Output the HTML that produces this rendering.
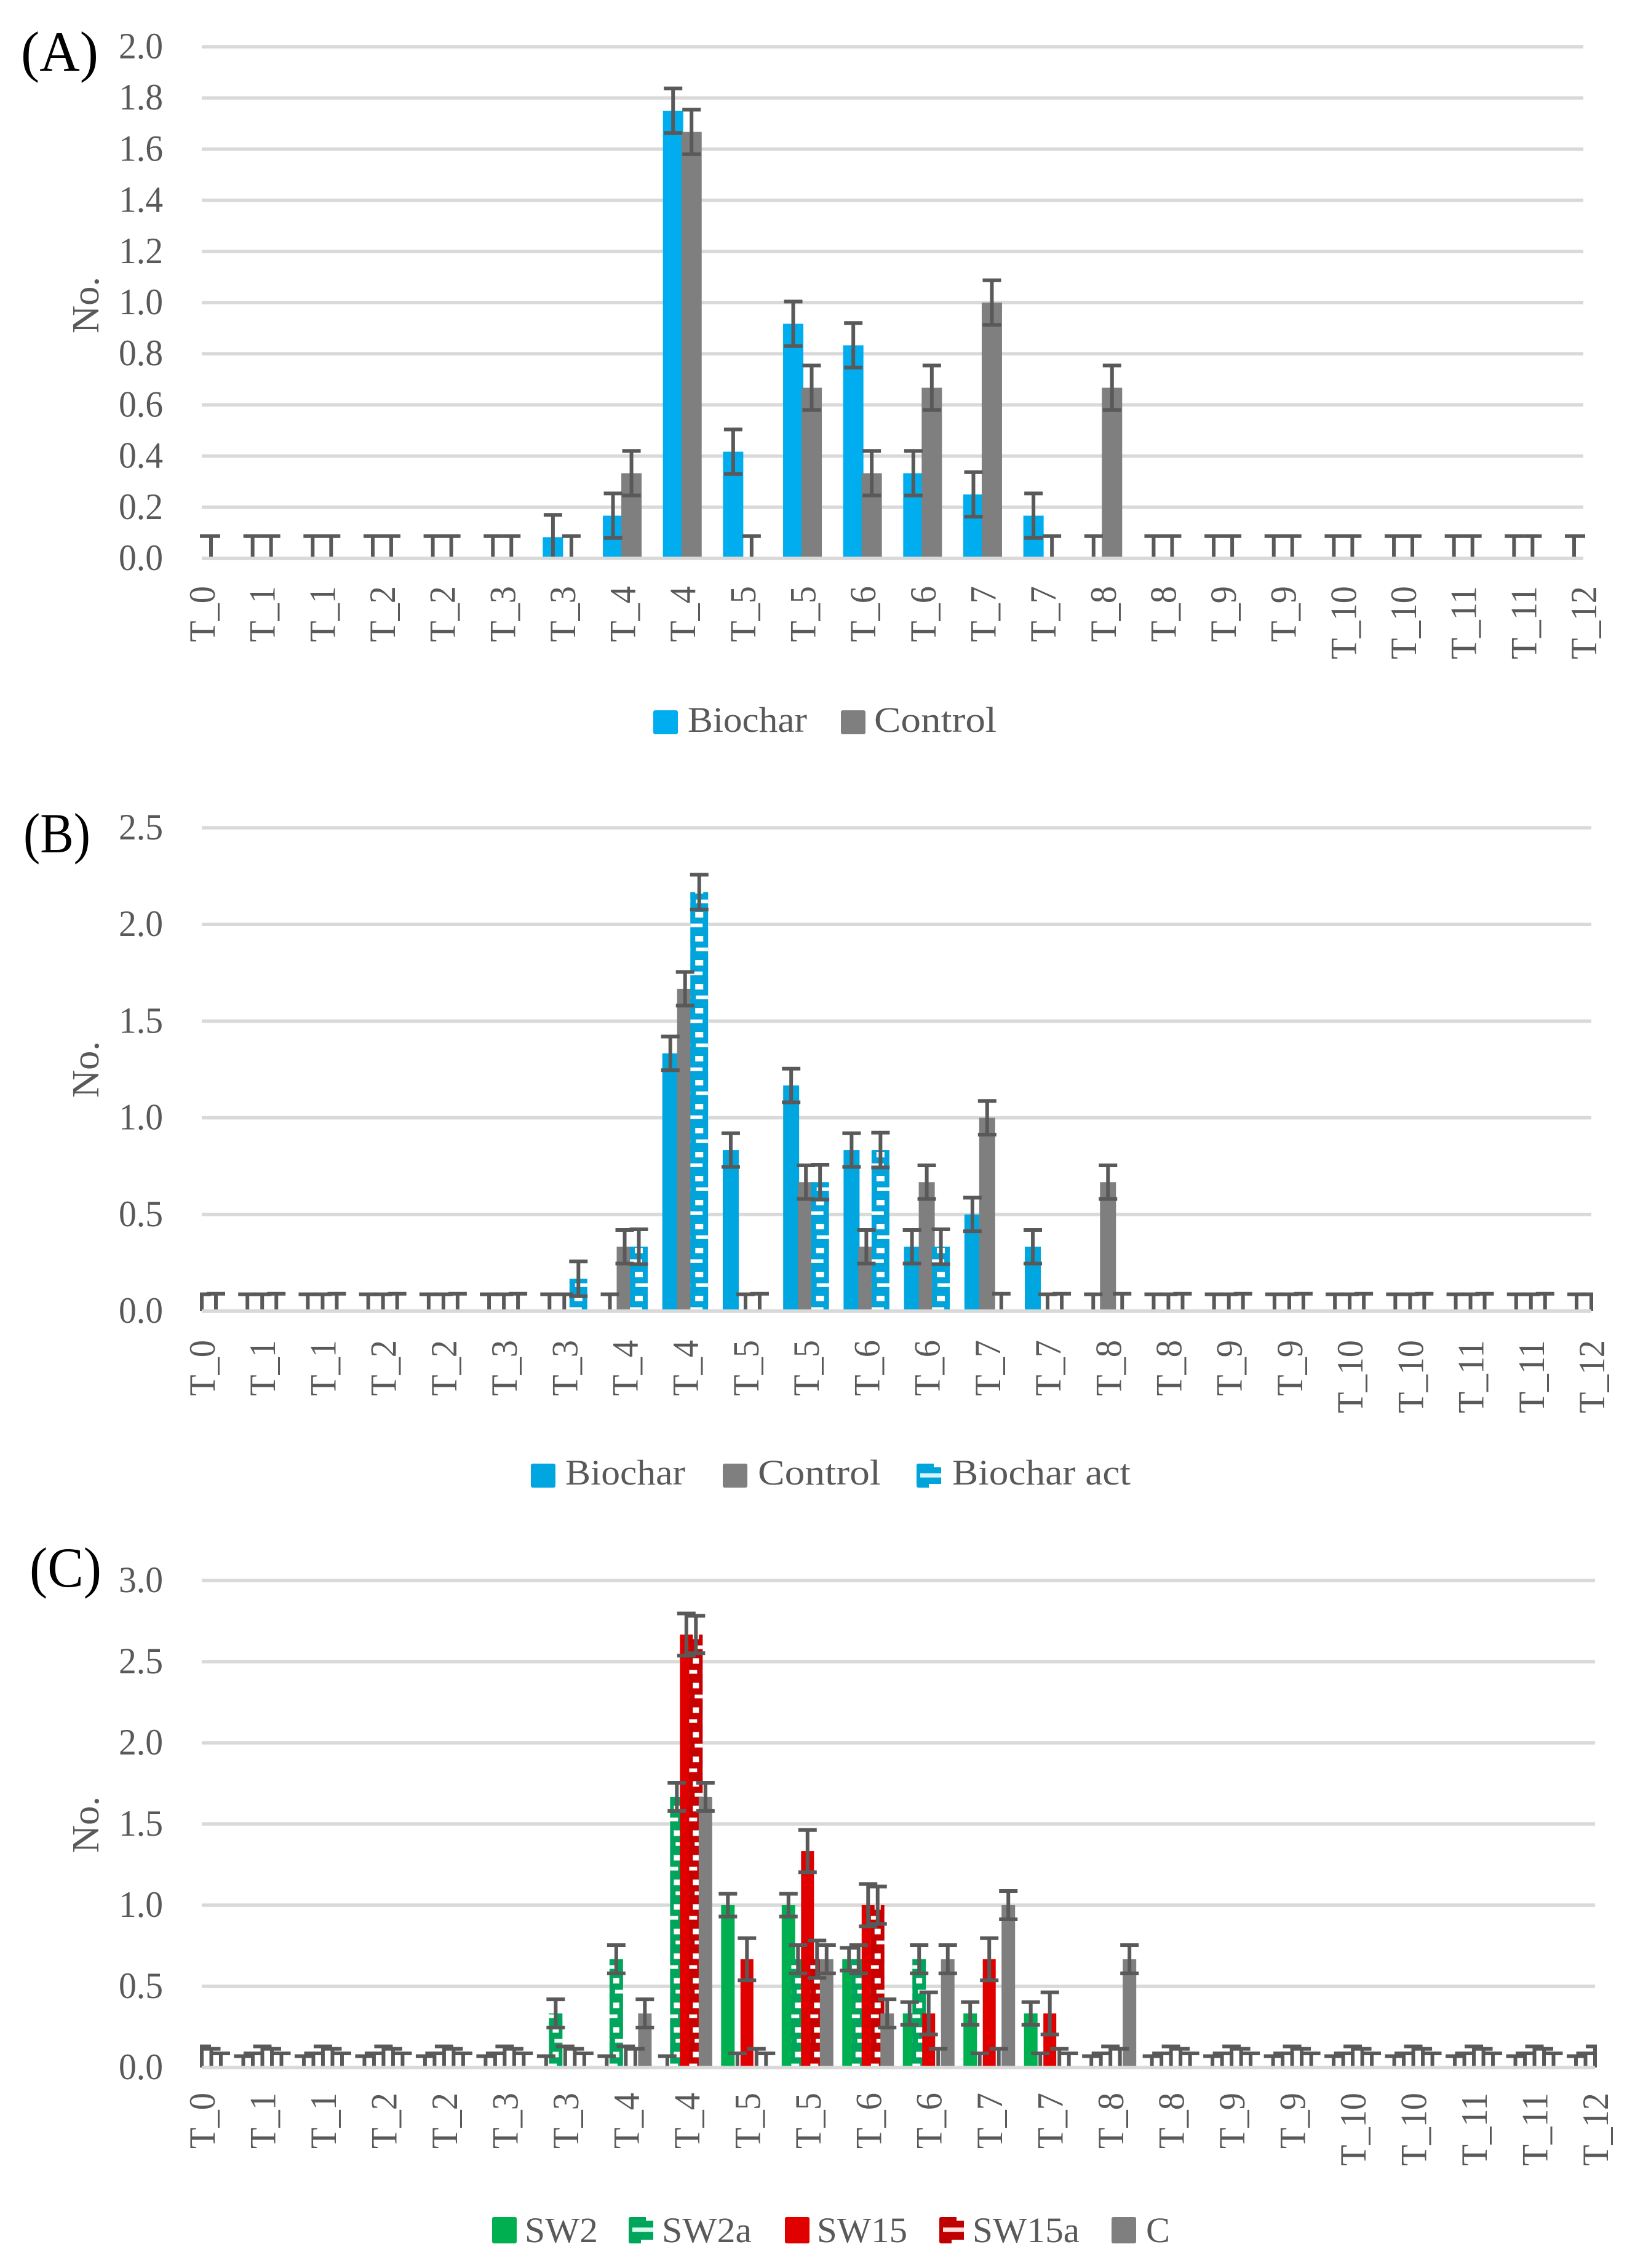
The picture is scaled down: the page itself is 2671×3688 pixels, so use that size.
<!DOCTYPE html>
<html lang="en">
<head>
<meta charset="utf-8">
<title>Biochar charts</title>
<style>
html,body{margin:0;padding:0;background:#fff;}
svg{display:block;}
text{font-family:"Liberation Serif",serif;fill:#595959;}
</style>
</head>
<body>
<svg id="figure" xmlns="http://www.w3.org/2000/svg" width="2671" height="3688" viewBox="0 0 2671 3688"></svg>
<script>
const categories = ['T_0','T_1','T_1','T_2','T_2','T_3','T_3','T_4','T_4','T_5','T_5','T_6','T_6','T_7','T_7','T_8','T_8','T_9','T_9','T_10','T_10','T_11','T_11','T_12'];

const ticksA = ['0.0','0.2','0.4','0.6','0.8','1.0','1.2','1.4','1.6','1.8','2.0'];
const ticksB = ['0.0','0.5','1.0','1.5','2.0','2.5'];
const ticksC = ['0.0','0.5','1.0','1.5','2.0','2.5','3.0'];

const biocharA = [0,0,0,0,0,0,0.083,0.167,1.75,0.417,0.917,0.833,0.333,0.25,0.167,0,0,0,0,0,0,0,0,0];
const controlA = [0,0,0,0,0,0,0,0.333,1.667,0,0.667,0.333,0.667,1,0,0.667,0,0,0,0,0,0,0,0];

const biocharB = [0,0,0,0,0,0,0,0,1.333,0.833,1.167,0.833,0.333,0.5,0.333,0,0,0,0,0,0,0,0,0];
const controlB = [0,0,0,0,0,0,0,0.333,1.667,0,0.667,0.333,0.667,1,0,0.667,0,0,0,0,0,0,0,0];
const biocharActB = [0,0,0,0,0,0,0.167,0.333,2.167,0,0.667,0.833,0.333,0,0,0,0,0,0,0,0,0,0,0];

const sw2C = [0,0,0,0,0,0,0,0,0,1,1,0.667,0.333,0.333,0.333,0,0,0,0,0,0,0,0,0];
const sw2aC = [0,0,0,0,0,0,0.333,0.667,1.667,0,0.667,0.667,0.667,0,0,0,0,0,0,0,0,0,0,0];
const sw15C = [0,0,0,0,0,0,0,0,2.667,0.667,1.333,1,0.333,0.667,0.333,0,0,0,0,0,0,0,0,0];
const sw15aC = [0,0,0,0,0,0,0,0,2.667,0,0.667,1,0,0,0,0,0,0,0,0,0,0,0,0];
const controlC = [0,0,0,0,0,0,0,0.333,1.667,0,0.667,0.333,0.667,1,0,0.667,0,0,0,0,0,0,0,0];

const errorsA = [0.087,0.087];
const errorsB = [0.087,0.087,0.09];
const errorsC = [0.07,0.087,0.13,0.115,0.087];

const NS = 'http://www.w3.org/2000/svg';
const root = document.getElementById('figure');
const defs = document.createElementNS(NS,'defs');
root.appendChild(defs);

function make(tag, attrs, parent){
  const n = document.createElementNS(NS,tag);
  for(const k in attrs){ n.setAttribute(k, attrs[k]); }
  (parent||root).appendChild(n);
  return n;
}

function makePattern(id, color, w, period){
  const p = make('pattern',{id:id,patternUnits:'userSpaceOnUse',x:-w/2,y:0,width:w,height:period*2},defs);
  const holeW = Math.min(13,w*0.45);
  make('rect',{x:0,y:0,width:w,height:period*2,fill:color},p);
  make('rect',{x:(w-holeW)/2,y:period*0.36,width:holeW,height:9,fill:'#fff'},p);
  make('rect',{x:(w-holeW)/2,y:period*1.36,width:holeW,height:9,fill:'#fff'},p);
  make('rect',{x:9,y:period*0.84,width:w-9,height:6,fill:'#fff'},p);
  make('rect',{x:0,y:period*1.84,width:w-9,height:6,fill:'#fff'},p);
}

function drawChart(cfg, index){
  const g = make('g',{});
  
  
  const xAxis = i => cfg.left + i*(cfg.right-cfg.left)/(categories.length-1);
  const yAxis = v => cfg.base - v*cfg.unit;

  cfg.ticks.forEach(t=>{
    const v = parseFloat(t);
    const line = make('line',{x1:cfg.left,x2:cfg.right,y1:yAxis(v),y2:yAxis(v),stroke:'#d9d9d9','stroke-width':5.5},g);
    
    
    const label = make('text',{x:265,y:yAxis(v)+19,'text-anchor':'end','font-size':60,textLength:72,lengthAdjust:'spacingAndGlyphs'},g);
    
    
    label.textContent = t;
  });

  const clipId = 'clip'+index;
  const clip = make('clipPath',{id:clipId},defs);
  make('rect',{x:cfg.left-3,y:cfg.base-cfg.unit*parseFloat(cfg.ticks[cfg.ticks.length-1])-10,width:cfg.right-cfg.left+6,height:cfg.unit*parseFloat(cfg.ticks[cfg.ticks.length-1])+10},clip);
  const plot = make('g',{'clip-path':'url(#'+clipId+')'},g);

  cfg.series.forEach((s,si)=>{
    if(s.pattern){ makePattern(s.pattern, s.color, s.width, cfg.period); }
    s.values.forEach((v,i)=>{
      const holder = make('g',{transform:'translate('+(xAxis(i)+s.offset)+','+cfg.base+')'},plot);
      const bar = make('rect',{x:-s.width/2,y:yAxis(v)-cfg.base,width:s.width,height:v*cfg.unit,fill:s.pattern?'url(#'+s.pattern+')':s.color},holder);
      
      
    });
  });

  cfg.series.forEach((s,si)=>{
    const err = cfg.errors[si];
    s.values.forEach((v,i)=>{
      const cx = xAxis(i)+s.offset;
      const top = yAxis(v+err), low = yAxis(v-err);
      const eb = make('path',{d:'M'+(cx-15)+' '+top+'H'+(cx+15)+'M'+cx+' '+top+'V'+low+'M'+(cx-15)+' '+low+'H'+(cx+15),stroke:'#595959','stroke-width':6,fill:'none'},plot);
      
      
    });
  });

  const baseLine = make('line',{x1:cfg.left,x2:cfg.right,y1:cfg.base,y2:cfg.base,stroke:'#d9d9d9','stroke-width':5.5},g);
  
  

  categories.forEach((c,i)=>{
    const px = xAxis(i)+21;
    const label = make('text',{x:px,y:cfg.labelTop,'text-anchor':'end','font-size':60,textLength:c.length>3?119:91,lengthAdjust:'spacingAndGlyphs',transform:'rotate(-90 '+px+' '+cfg.labelTop+')'},g);
    
    
    label.textContent = c;
  });

  const title = make('text',{x:160,y:cfg.titleY,'text-anchor':'middle','font-size':62,textLength:92,lengthAdjust:'spacingAndGlyphs',transform:'rotate(-90 160 '+cfg.titleY+')'},g);
  
  
  title.textContent = 'No.';

  const panel = make('text',{x:cfg.panel[0],y:cfg.panel[1],'font-size':92,textLength:cfg.panel[2],lengthAdjust:'spacingAndGlyphs',style:'fill:#000'},g);
  
  
  panel.textContent = cfg.panel[3];

  cfg.legend.forEach(l=>{
    const entry = make('g',{},g);
    
    
    const sw = make('rect',{x:l.x,y:cfg.legendTop,width:40,height:cfg.legendH,rx:3,fill:l.color},entry);
    
    
    if(l.striped){
      make('rect',{x:l.x+6,y:cfg.legendTop+cfg.legendH*0.4,width:34,height:7,fill:l.stripe},entry);
      make('rect',{x:l.x+28,y:cfg.legendTop-1,width:13,height:7,fill:'#fff'},entry);
      make('rect',{x:l.x,y:cfg.legendTop+cfg.legendH*0.62,width:12,height:4,fill:l.color},entry);
      make('rect',{x:l.x+20,y:cfg.legendTop+cfg.legendH-6,width:21,height:7,fill:'#fff'},entry);
    }
    const t = make('text',{x:l.tx,y:cfg.legendBase,'font-size':58,textLength:l.tw,lengthAdjust:'spacingAndGlyphs'},entry);
    
    
    t.textContent = l.label;
  });
}

drawChart({
  name:'chart-a',left:328,right:2574,base:908,unit:416,ticks:ticksA,labelTop:953,titleY:496,period:39,
  panel:[34,115,126,'(A)'],errors:errorsA,
  series:[
    {key:'biochar',values:biocharA,color:'#00aeef',offset:-15,width:33},
    {key:'control',values:controlA,color:'#7f7f7f',offset:15,width:33}
  ],
  legendTop:1155,legendH:39,legendBase:1190,
  legend:[
    {x:1062,color:'#00aeef',tx:1118,tw:194,label:'Biochar'},
    {x:1367,color:'#7f7f7f',tx:1421,tw:199,label:'Control'}
  ]
},0);

drawChart({
  name:'chart-b',left:328,right:2587,base:2132,unit:314.4,ticks:ticksB,labelTop:2179,titleY:1739,period:39,
  panel:[38,1386,109,'(B)'],errors:errorsB,
  series:[
    {key:'biochar',values:biocharB,color:'#00a6e0',offset:-24,width:26},
    {key:'control',values:controlB,color:'#7f7f7f',offset:0,width:26},
    {key:'biochar-act',values:biocharActB,color:'#00a3da',offset:23,width:29,pattern:'patAct'}
  ],
  legendTop:2380,legendH:39,legendBase:2414,
  legend:[
    {x:863,color:'#00a6e0',tx:919,tw:195,label:'Biochar'},
    {x:1175,color:'#7f7f7f',tx:1232,tw:200,label:'Control'},
    {x:1490,color:'#00a3da',tx:1548,tw:290,label:'Biochar act',striped:true,stripe:'#d6f4fb'}
  ]
},1);

drawChart({
  name:'chart-c',left:328,right:2593,base:3362,unit:264,ticks:ticksC,labelTop:3403,titleY:2967,period:40,
  panel:[48,2580,117,'(C)'],errors:errorsC,
  series:[
    {key:'sw2',values:sw2C,color:'#00b050',offset:-31,width:22},
    {key:'sw2a',values:sw2aC,color:'#00a55c',offset:-15.5,width:22,pattern:'patSw2a'},
    {key:'sw15',values:sw15C,color:'#e00000',offset:0,width:21},
    {key:'sw15a',values:sw15aC,color:'#c80000',offset:15.5,width:22,pattern:'patSw15a'},
    {key:'c',values:controlC,color:'#7f7f7f',offset:31,width:22}
  ],
  legendTop:3605,legendH:43,legendBase:3646,
  legend:[
    {x:800,color:'#00b050',tx:853,tw:119,label:'SW2'},
    {x:1022,color:'#00a55c',tx:1076,tw:146,label:'SW2a',striped:true,stripe:'#d6f8ec'},
    {x:1276,color:'#e00000',tx:1328,tw:147,label:'SW15'},
    {x:1527,color:'#c00000',tx:1581,tw:174,label:'SW15a',striped:true,stripe:'#fbdede'},
    {x:1807,color:'#7f7f7f',tx:1863,tw:39,label:'C'}
  ]
},2);
</script>
</body>
</html>
